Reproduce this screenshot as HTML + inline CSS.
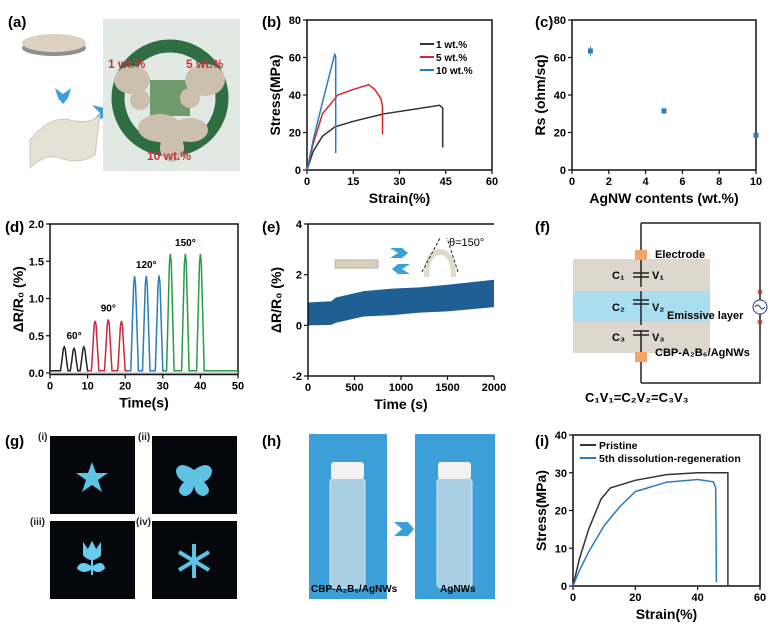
<!DOCTYPE html>
<html><head><meta charset="utf-8"><style>
body{margin:0;background:#fff}
svg{display:block;font-family:"Liberation Sans",sans-serif;font-weight:bold}
.t{font-size:11px}
.lab{font-size:15px}
.ax{font-size:14px}
</style></head><body>
<svg id="fig" width="771" height="628" viewBox="0 0 771 628" xmlns="http://www.w3.org/2000/svg">
<!-- panel labels -->
<g class="lab">
<text x="8" y="27">(a)</text><text x="262" y="27">(b)</text><text x="535" y="27">(c)</text>
<text x="5" y="232">(d)</text><text x="262" y="232">(e)</text><text x="535" y="232">(f)</text>
<text x="5" y="446">(g)</text><text x="262" y="446">(h)</text><text x="535" y="446">(i)</text>
</g>
<!-- (a) photo -->
<g>
<ellipse cx="54" cy="48" rx="32" ry="8" fill="#8d8f94"/>
<ellipse cx="54" cy="43" rx="32" ry="9" fill="#dcd2bf"/>
<path d="M55 88 l8 6 l8 -6 l-3 10 l-5 6 l-5 -6z" fill="#3aa0d8"/>
<path d="M92 105 l8 8 l-8 8 l12 -3 l6 -5 l-6 -5z" fill="#3aa0d8"/>
<path d="M30 140 q20 -25 40 -20 q20 5 30 -5 l-5 40 q-15 10 -35 3 q-15 -5 -30 10z" fill="#e6e1d6" stroke="#cfc8b8"/>
<rect x="103" y="19" width="137" height="152" fill="#e2e8e3"/>
<circle cx="170" cy="98" r="52" fill="none" stroke="#2f6e43" stroke-width="13"/>
<rect x="150" y="80" width="40" height="36" fill="#6f9a6a"/>
<g fill="#cbbfae">
<ellipse cx="132" cy="80" rx="18" ry="14"/><ellipse cx="140" cy="100" rx="10" ry="10"/>
<ellipse cx="205" cy="80" rx="20" ry="16"/><ellipse cx="190" cy="98" rx="10" ry="10"/>
<ellipse cx="160" cy="128" rx="22" ry="14"/><ellipse cx="172" cy="148" rx="12" ry="14"/><ellipse cx="190" cy="130" rx="18" ry="12"/>
</g>
<g fill="#c8313f" font-size="12"><text x="108" y="68">1 wt.%</text><text x="186" y="68">5 wt.%</text><text x="147" y="160">10 wt.%</text></g>
</g>
<g id="pb"></g>
<g id="pc"></g>
<g id="pd"></g>
<g id="pe"></g>
<g id="pi"></g>
<!-- (e) inset -->
<g>
<rect x="335" y="260" width="43" height="8" fill="#d9d0c0" stroke="#bdb29f"/>
<path d="M390 248 l8 5 l-8 5 l12 0 l6 -5 l-6 -5z M410 264 l-8 5 l8 5 l-12 0 l-6 -5 l6 -5z" fill="#3aa0d8"/>
<path d="M424 277 q0 -28 16 -28 q16 0 16 28 l-5 0 q0 -22 -11 -22 q-11 0 -11 22z" fill="#e2d9c8"/>
<path d="M422 272 L440 238 M458 272 L447 238" stroke="#222" stroke-dasharray="3,2" fill="none"/>
<text x="449" y="246" class="t" font-weight="normal" font-size="10">θ=150°</text>
</g>
<!-- (f) circuit -->
<g>
<rect x="573" y="259" width="137" height="94" fill="#ddd7cd"/>
<rect x="573" y="291" width="137" height="31" fill="#a9def0"/>
<path d="M641 223 H760 V300 M760 314 V383 H641" fill="none" stroke="#222" stroke-width="1.5"/>
<path d="M641 223 V287 M641 291 V325 M641 330 V362 M641 362 V383" fill="none" stroke="#222" stroke-width="1.5"/>
<g stroke="#222" stroke-width="1.5"><line x1="633" y1="273" x2="649" y2="273"/><line x1="633" y1="277" x2="649" y2="277"/><line x1="633" y1="300" x2="649" y2="300"/><line x1="633" y1="304" x2="649" y2="304"/><line x1="633" y1="331" x2="649" y2="331"/><line x1="633" y1="335" x2="649" y2="335"/></g>
<rect x="635" y="250" width="12" height="10" fill="#f3a469"/><rect x="635" y="352" width="12" height="10" fill="#f3a469"/>
<circle cx="760" cy="307" r="7" fill="#fff" stroke="#223e8a"/><path d="M755 307 q2.5 -4 5 0 q2.5 4 5 0" fill="none" stroke="#223e8a"/>
<circle cx="760" cy="292" r="2" fill="none" stroke="#c33"/><circle cx="760" cy="322" r="2" fill="none" stroke="#c33"/>
<g class="t" font-size="11"><text x="655" y="258">Electrode</text><text x="612" y="279">C₁</text><text x="652" y="279">V₁</text>
<text x="612" y="311">C₂</text><text x="652" y="311">V₂</text><text x="667" y="319">Emissive layer</text>
<text x="612" y="341">C₃</text><text x="652" y="341">V₃</text><text x="655" y="356">CBP-A₂B₆/AgNWs</text></g>
<text x="585" y="402" font-size="13">C₁V₁=C₂V₂=C₃V₃</text>
</g>
<!-- (g) -->
<g>
<rect x="50" y="436" width="85" height="78" fill="#05070c"/><rect x="152" y="436" width="85" height="78" fill="#05070c"/>
<rect x="50" y="521" width="85" height="78" fill="#05070c"/><rect x="152" y="521" width="85" height="78" fill="#05070c"/>
<polygon points="92,462 96,473 108,473 98,480 102,492 92,485 82,492 86,480 76,473 88,473" fill="#5fc3e4"/>
<path d="M194 470 q-14 -10 -18 0 q0 8 8 12 q-10 10 0 14 q8 0 10 -10 q2 10 10 10 q10 -4 0 -14 q8 -4 8 -12 q-4 -10 -18 0z" fill="#5fc3e4"/>
<path d="M84 545 l4 6 l4 -8 l4 8 l4 -6 l0 10 q-8 8 -16 0z M92 557 v18 M92 568 q-10 -8 -14 0 q6 6 14 0 q10 -8 12 0 q-6 6 -12 0" fill="#66cdf0" stroke="#66cdf0" stroke-width="2"/>
<g stroke="#5fc3e4" stroke-width="4"><line x1="194" y1="544" x2="194" y2="578"/><line x1="179" y1="552" x2="209" y2="570"/><line x1="179" y1="570" x2="209" y2="552"/></g>
<g font-size="10" fill="#222"><text x="38" y="440">(i)</text><text x="138" y="440">(ii)</text><text x="30" y="525">(iii)</text><text x="136" y="525">(iv)</text></g>
</g>
<!-- (h) -->
<g>
<rect x="309" y="434" width="78" height="165" fill="#3d9fd8"/><rect x="415" y="434" width="80" height="165" fill="#3d9fd8"/>
<rect x="330" y="478" width="35" height="110" rx="4" fill="#a9cfe4" stroke="#d8e8f0"/><rect x="331" y="462" width="33" height="17" rx="3" fill="#f2f2f2"/>
<rect x="437" y="478" width="35" height="110" rx="4" fill="#a9cfe4" stroke="#d8e8f0"/><rect x="438" y="462" width="33" height="17" rx="3" fill="#f2f2f2"/>
<path d="M394 522 l8 7 l-8 7 l14 0 l6 -7 l-6 -7z" fill="#3aa0d8"/>
<g font-size="10"><text x="311" y="592">CBP-A₂B₆/AgNWs</text><text x="440" y="592">AgNWs</text></g>
</g>
<script>
// ===== data =====
const bX1=[0,2,5,9,15,25,35,43,44,44];
const bY1=[0,10,18,23,26,30,32.5,34.5,33,12];
const bX5=[0,2,5,10,15,20,22,24,24.5,24.5];
const bY5=[0,14,30,40,43,45.5,43,38,34,19];
const bX10=[0,2,5,9,9.3,9.3];
const bY10=[0,16,36,62,60,9];
const bTicksX=[0,15,30,45,60];
const bTicksY=[0,20,40,60,80];
const cX=[1,5,10];
const cY=[63.5,31.5,18.5];
const cErr=[2.5,1.5,1];
const cTicksX=[0,2,4,6,8,10];
const cTicksY=[0,20,40,60,80];
const dPeakT=[3.8,6.4,9,12,15.5,19,22.5,25.6,29,32,36,40];
const dPeakH=[0.35,0.33,0.35,0.7,0.72,0.7,1.3,1.3,1.31,1.6,1.6,1.6];
const dBase=[0.03,0.03,0.03,0.03];
const dTicksX=[0,10,20,30,40,50];
const dTicksY=[0,0.5,1.0,1.5,2.0];
const eT=[0,250,300,600,900,1200,1500,2000];
const eLow=[0,0.02,0.1,0.35,0.4,0.5,0.55,0.72];
const eHigh=[0.9,0.95,1.1,1.35,1.45,1.5,1.6,1.8];
const eTicksX=[0,500,1000,1500,2000];
const eTicksY=[-2,0,2,4];
const iX1=[0,2,5,9,12,20,30,40,49.7,49.7];
const iY1=[0,7,15,23,26,28,29.5,30,30,0];
const iX2=[0,2,5,10,15,20,30,40,45,45.8,46];
const iY2=[0,4,9,16,21,25,27.5,28.2,27.6,26,1];
const iTicksX=[0,20,40,60];
const iTicksY=[0,10,20,30,40];
// ===== helpers =====
const NS='http://www.w3.org/2000/svg';
function mk(p,tag,attrs){const e=document.createElementNS(NS,tag);for(const k in attrs)e.setAttribute(k,attrs[k]);p.appendChild(e);return e;}
function lin(d0,d1,r0,r1){return v=>r0+(v-d0)/(d1-d0)*(r1-r0);}
function axes(g,sx,sy,x0,x1,y0,y1,tx,ty,fx,fy,xl,yl,box){
  const L=sx(x0),R=sx(x1),T=sy(y1),B=sy(y0);
  const fr=mk(g,'path',{d:box?`M${L} ${T}H${R}V${B}H${L}Z`:`M${R} ${T}H${L}V${B}H${R}`,fill:'none',stroke:'#111','stroke-width':1.5});
  
  
  tx.forEach(v=>{mk(g,'line',{x1:sx(v),x2:sx(v),y1:B,y2:B+4,stroke:'#111','stroke-width':1.2});
    const t=mk(g,'text',{x:sx(v),y:B+15,'text-anchor':'middle','font-size':11});t.textContent=fx(v);
    
    });
  ty.forEach(v=>{mk(g,'line',{x1:L-4,x2:L,y1:sy(v),y2:sy(v),stroke:'#111','stroke-width':1.2});
    const t=mk(g,'text',{x:L-6,y:sy(v)+4,'text-anchor':'end','font-size':11});t.textContent=fy(v);
    
    });
  const a=mk(g,'text',{x:(L+R)/2,y:B+33,'text-anchor':'middle','font-size':14});a.textContent=xl;
  
  
  const b=mk(g,'text',{x:0,y:0,'text-anchor':'middle','font-size':14,transform:`translate(${L-27},${(T+B)/2}) rotate(-90)`});b.textContent=yl;
  
  
}
function line(g,xs,ys,sx,sy,col,name){
  const d=xs.map((x,i)=>(i?'L':'M')+sx(x).toFixed(1)+' '+sy(ys[i]).toFixed(1)).join('');
  const p=mk(g,'path',{d:d,fill:'none',stroke:col,'stroke-width':1.5});
  
  
}
const id=v=>String(v);
// ===== (b) =====
{const g=document.getElementById('pb');const sx=lin(0,60,307,492),sy=lin(0,80,170,20);
axes(g,sx,sy,0,60,0,80,bTicksX,bTicksY,id,id,'Strain(%)','Stress(MPa)',true);
line(g,bX1,bY1,sx,sy,'#333','series-1wt');line(g,bX5,bY5,sx,sy,'#d8262e','series-5wt');line(g,bX10,bY10,sx,sy,'#2a7bbf','series-10wt');
[['1 wt.%','#333'],['5 wt.%','#d8262e'],['10 wt.%','#2a7bbf']].forEach((l,i)=>{
 const y=44+i*13;mk(g,'line',{x1:420,x2:434,y1:y,y2:y,stroke:l[1],'stroke-width':2});
 const t=mk(g,'text',{x:436,y:y+4,'font-size':10});t.textContent=l[0];
 
 });}
// ===== (c) =====
{const g=document.getElementById('pc');const sx=lin(0,10,572,756),sy=lin(0,80,170,20);
axes(g,sx,sy,0,10,0,80,cTicksX,cTicksY,id,id,'AgNW contents (wt.%)','Rs (ohm/sq)',true);
cX.forEach((x,i)=>{mk(g,'line',{x1:sx(x),x2:sx(x),y1:sy(cY[i]-cErr[i]),y2:sy(cY[i]+cErr[i]),stroke:'#2a7bbf'});
 const r=mk(g,'rect',{x:sx(x)-2.5,y:sy(cY[i])-2.5,width:5,height:5,fill:'#2a7bbf'});
 
 });}
// ===== (d) =====
{const g=document.getElementById('pd');const sx=lin(0,50,50,238),sy=lin(0,2,373,224);
axes(g,sx,sy,0,50,-0.02,2,dTicksX,dTicksY,id,v=>v.toFixed(1),'Time(s)','ΔR/R₀ (%)',true);
mk(g,'line',{x1:sx(0),x2:sx(50),y1:sy(0),y2:sy(0),stroke:'#aaa'});
const cols=['#222','#c8283a','#2a7bbf','#2a9a48'];
for(let k=0;k<4;k++){const xs=[],ys=[];const b=dBase[k];
 xs.push(k===0?0:dPeakT[k*3]-1.8);ys.push(b);
 for(let j=0;j<3;j++){const t=dPeakT[k*3+j],h=dPeakH[k*3+j];
  xs.push(t-1,t-0.6,t-0.25,t,t+0.25,t+0.6,t+1);ys.push(b,h*0.5,h*0.92,h,h*0.92,h*0.5,b);}
 xs.push(k===3?50:dPeakT[k*3+2]+1.8);ys.push(b);
 line(g,xs,ys,sx,sy,cols[k],'series-'+['60','90','120','150'][k]+'deg');}
[['60°',6.4,0.35],['90°',15.5,0.72],['120°',25.6,1.3],['150°',36,1.6]].forEach(a=>{
 const t=mk(g,'text',{x:sx(a[1]),y:sy(a[2])-8,'text-anchor':'middle','font-size':10});t.textContent=a[0];
 
 });}
// ===== (e) =====
{const g=document.getElementById('pe');const sx=lin(0,2000,308,494),sy=lin(-2,4,376,224);
const up=eT.map((t,i)=>sx(t)+' '+sy(eHigh[i])).join(' L');const lo=eT.slice().reverse().map((t,i)=>sx(t)+' '+sy(eLow[eT.length-1-i])).join(' L');
const p=mk(g,'path',{d:'M'+up+' L'+lo+'Z',fill:'#1f5f95'});


axes(g,sx,sy,0,2000,-2,4,eTicksX,eTicksY,id,id,'Time (s)','ΔR/R₀ (%)',false);}
// ===== (i) =====
{const g=document.getElementById('pi');const sx=lin(0,60,573,760),sy=lin(0,40,586,435);
axes(g,sx,sy,0,60,0,40,iTicksX,iTicksY,id,id,'Strain(%)','Stress(MPa)',true);
line(g,iX1,iY1,sx,sy,'#333','series-pristine');line(g,iX2,iY2,sx,sy,'#2a7bbf','series-5th-regeneration');
[['Pristine','#333'],['5th dissolution-regeneration','#2a7bbf']].forEach((l,i)=>{
 const y=445+i*13;mk(g,'line',{x1:580,x2:596,y1:y,y2:y,stroke:l[1],'stroke-width':2});
 const t=mk(g,'text',{x:599,y:y+4,'font-size':10.5});t.textContent=l[0];
 
 });}
</script>
</svg>
</body></html>
